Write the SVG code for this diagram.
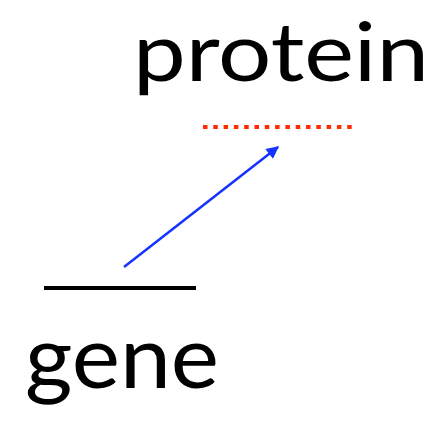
<svg xmlns="http://www.w3.org/2000/svg" width="442" height="421" viewBox="0 0 442 421">
<defs>
<style>
.lbl{font-family:Lato,"Open Sans","Liberation Sans",sans-serif;font-size:88px;fill:#000}
</style>
<marker id="ah" viewBox="0 0 10 10" refX="9" refY="5" markerWidth="6" markerHeight="5" markerUnits="strokeWidth" orient="auto">
<path d="M0,0 L10,5 L0,10 z" fill="#1433ff"/>
</marker>
</defs>
<rect width="442" height="421" fill="#fff"/>
<g id="protein">
<text class="lbl" x="133" y="81" style="font-size:82px" textLength="296" lengthAdjust="spacingAndGlyphs">protein</text>
<line x1="203" y1="127" x2="357" y2="127" stroke="#ff2a00" stroke-width="4" stroke-dasharray="4.5 5.8"/>
</g>
<g id="gene">
<text class="lbl" x="25" y="388" textLength="194" lengthAdjust="spacingAndGlyphs">gene</text>
<line x1="44" y1="288" x2="196" y2="288" stroke="#000" stroke-width="4"/>
</g>
<g id="connectors">
<line x1="124" y1="267" x2="278" y2="147" stroke="#1433ff" stroke-width="2.5" marker-end="url(#ah)"/>
</g>
</svg>
